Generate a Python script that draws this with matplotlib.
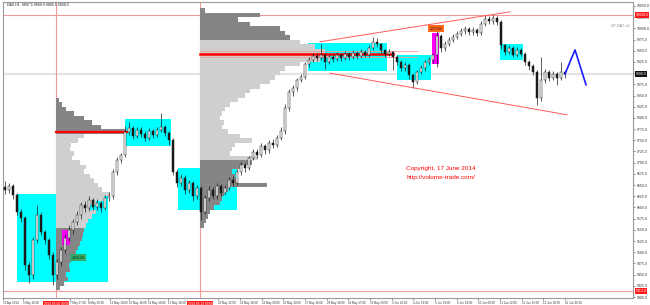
import numpy as np
import matplotlib.pyplot as plt
from matplotlib.patches import Rectangle

# DAX H1, 30 Apr - 16 Jun 2014, one entry per bar
first_open = 9645
closes = [9639, 9648, 9628, 9590, 9576, 9471, 9449, 9527, 9583, 9545,
          9527, 9494, 9449, 9478, 9505, 9532, 9550, 9568, 9583, 9605,
          9599, 9617, 9601, 9610, 9599, 9621, 9626, 9679, 9706, 9717,
          9769, 9777, 9760, 9773, 9764, 9755, 9771, 9762, 9773, 9780,
          9766, 9751, 9679, 9655, 9666, 9639, 9655, 9626, 9643, 9590,
          9621, 9639, 9626, 9648, 9632, 9643, 9661, 9655, 9679, 9695,
          9688, 9710, 9724, 9717, 9737, 9728, 9744, 9740, 9755, 9771,
          9822, 9858, 9867, 9885, 9891, 9920, 9929, 9938, 9934, 9941,
          9925, 9936, 9932, 9941, 9934, 9943, 9936, 9945, 9938, 9947,
          9941, 9956, 9970, 9965, 9952, 9943, 9947, 9936, 9925, 9912,
          9918, 9896, 9880, 9903, 9912, 9925, 9929, 9941, 9983, 9956,
          9965, 9974, 9981, 9987, 9994, 9999, 9992, 9996, 9990, 10010,
          10021, 10016, 10023, 10014, 9963, 9947, 9956, 9941, 9952, 9943,
          9925, 9916, 9903, 9844, 9885, 9903, 9889, 9898, 9889, 9903,
          9898]
highs = [9660, 9655, 9652, 9632, 9597, 9580, 9478, 9535, 9605, 9590,
         9550, 9532, 9500, 9485, 9512, 9540, 9560, 9575, 9592, 9612,
         9615, 9625, 9622, 9620, 9615, 9628, 9635, 9685, 9712, 9722,
         9782, 9790, 9782, 9780, 9779, 9770, 9778, 9776, 9780, 9812,
         9785, 9770, 9755, 9685, 9675, 9672, 9662, 9660, 9650, 9648,
         9628, 9648, 9645, 9655, 9652, 9650, 9668, 9670, 9685, 9702,
         9700, 9716, 9730, 9730, 9745, 9742, 9750, 9752, 9762, 9780,
         9830, 9865, 9874, 9890, 9898, 9926, 9936, 9945, 9945, 9965,
         9945, 9942, 9942, 9948, 9946, 9950, 9948, 9952, 9950, 9954,
         9952, 9962, 9980, 9978, 9968, 9955, 9954, 9950, 9940, 9930,
         9925, 9922, 9900, 9908, 9918, 9930, 9936, 9946, 9996, 9988,
         9972, 9980, 9988, 9994, 10000, 10005, 10003, 10002, 10000, 10016,
         10030, 10028, 10030, 10027, 10018, 9966, 9962, 9960, 9958, 9956,
         9948, 9930, 9920, 9906, 9935, 9910, 9908, 9905, 9903, 9925,
         9908]
lows = [9630, 9632, 9620, 9583, 9568, 9460, 9431, 9440, 9520, 9538,
        9518, 9485, 9427, 9440, 9470, 9498, 9525, 9540, 9560, 9575,
        9590, 9592, 9594, 9595, 9590, 9594, 9615, 9620, 9672, 9700,
        9712, 9762, 9752, 9755, 9758, 9748, 9750, 9756, 9758, 9768,
        9760, 9740, 9672, 9645, 9648, 9630, 9632, 9615, 9620, 9572,
        9585, 9615, 9620, 9620, 9625, 9628, 9638, 9648, 9650, 9672,
        9680, 9683, 9705, 9710, 9712, 9720, 9722, 9733, 9735, 9750,
        9765, 9815, 9850, 9860, 9880, 9886, 9914, 9925, 9928, 9930,
        9910, 9920, 9925, 9928, 9928, 9930, 9930, 9932, 9932, 9934,
        9935, 9936, 9952, 9958, 9945, 9936, 9938, 9907, 9918, 9905,
        9905, 9888, 9867, 9875, 9898, 9905, 9918, 9922, 9914, 9948,
        9950, 9960, 9970, 9976, 9982, 9988, 9985, 9986, 9982, 9986,
        10005, 10010, 10010, 10008, 9955, 9940, 9942, 9935, 9936, 9938,
        9918, 9908, 9895, 9829, 9838, 9878, 9882, 9884, 9874, 9884,
        9890]

bid = 9898
range_high, range_low = 10030, 9413
title = 'DAX,H1  9897.5 9899.0 9896.5 9898.0'

# volume profiles (session start bar, price levels, volume)
vp1_start = 12.75
vp1_levels = np.arange(9420, 9850, 10)
vp1_vol = [4, 8, 12, 10, 14, 13, 15, 18, 20, 22, 24, 26, 27, 28, 30, 32, 36, 40,
           34, 40, 48, 54, 46, 42, 38, 34, 28, 30, 24, 16, 18, 14, 15, 22, 28,
           70, 45, 36, 28, 18, 10, 6, 3]
vp1_va = (9560, 9760)
vp1_poc, vp1_poc_end = 9769, 30.5

vp2_start = 48.75
vp2_levels = np.arange(9560, 10050, 10)
vp2_vol = [4, 6, 8, 10, 14, 20, 22, 24, 28, 67, 38, 35, 32, 40, 52, 58, 30, 32,
           35, 52, 40, 28, 22, 24, 20, 22, 25, 30, 38, 45, 50, 60, 70, 75, 80,
           85, 100, 120, 130, 125, 115, 100, 90, 85, 80, 50, 38, 60, 5]
vp2_va = (9710, 9970)
vp2_poc, vp2_poc_end = 9943, 97

# zones: (bar from, bar to, price low, price high)
cyan_zones = [(3, 25.75, 9434, 9630), (30, 41.5, 9737, 9798),
              (43.25, 58, 9594, 9688), (75.75, 95.5, 9905, 9967),
              (98, 106.5, 9885, 9941), (123.75, 129.5, 9929, 9965)]
magenta_zones = [(14.25, 16.25, 9516, 9550), (106.75, 108.5, 9920, 9990)]

# trend channel and projection
chan_top_x, chan_top_y = [78.75, 126.25], [9970, 10037]
chan_bot_x, chan_bot_y = [81.25, 140.5], [9900, 9807]
proj_x, proj_y = [140, 142.5, 145.25], [9898, 9952, 9874]

yticks = np.arange(9400, 10051, 25)
xtick_pos = [-0.5, 4.5, 16.25, 20.75, 26.25, 31, 35.75, 40.75, 53.25, 58.75,
             64.25, 69.5, 75, 80.5, 85.75, 91.25, 96.75, 102, 107.5, 113,
             118.25, 123.75, 129.25, 134.5, 140]
xtick_lab = ['30 Apr 2014', '5 May 16:00', '7 May 17:00', '8 May 20:00',
             '12 May 10:00', '13 May 16:00', '14 May 10:00', '15 May 18:00',
             '20 May 12:00', '21 May 18:00', '22 May 20:00', '26 May 10:00',
             '27 May 14:00', '28 May 18:00', '29 May 17:00', '30 May 20:00',
             '3 Jun 10:00', '4 Jun 13:00', '5 Jun 18:00', '6 Jun 19:00',
             '10 Jun 09:00', '11 Jun 12:00', '12 Jun 15:00', '13 Jun 18:00',
             '16 Jun 20:00']

fig = plt.figure(figsize=(6.5, 3.05), dpi=100)
ax = fig.add_axes([3 / 650, 7 / 305, 630 / 650, 296 / 305])
ax.set_xlim(-0.5, 157)
ax.set_ylim(9397.8, 10058.9)

pink = '#f29a9a'
ax.axhline(bid, color='#e4e4e4', lw=1.6, zorder=0)
ax.axhline(range_high, color=pink, lw=0.8, zorder=1)
ax.axhline(range_low, color=pink, lw=0.8, zorder=1)
ax.axvline(vp1_start, color=pink, lw=0.8, zorder=1)
ax.axvline(vp2_start, color=pink, lw=0.8, zorder=1)

for x0, x1, lo, hi in cyan_zones:
    ax.add_patch(Rectangle((x0, lo), x1 - x0, hi - lo, color='#00ffff', lw=0, zorder=2))

# profiles, widths scaled to bars (4 px per bar)
for start, lev, vol, va in [(vp1_start, vp1_levels, vp1_vol, vp1_va),
                            (vp2_start, vp2_levels, vp2_vol, vp2_va)]:
    vol = np.array(vol) / 4
    cols = ['#cfcfcf' if va[0] <= p <= va[1] else '#858585' for p in lev]
    ax.barh(lev, vol, height=10, left=start, color=cols, lw=0, zorder=3)

ax.plot([vp1_start, vp1_poc_end], [vp1_poc, vp1_poc], color='red', lw=1.6, zorder=4)
ax.plot([vp2_start, vp2_poc_end], [vp2_poc, vp2_poc], color='red', lw=1.8, zorder=4)
ax.plot([vp2_start, 103], [vp2_poc + 7, vp2_poc + 7], color=pink, lw=0.6, zorder=4)
ax.plot([vp2_start, 103], [vp2_poc - 8, vp2_poc - 8], color=pink, lw=0.6, zorder=4)

for x0, x1, lo, hi in magenta_zones:
    ax.add_patch(Rectangle((x0, lo), x1 - x0, hi - lo, color='#ff00ff', lw=0, zorder=4))

# candles
x = np.arange(len(closes))
c = np.array(closes)
o = np.r_[first_open, c[:-1]]
ax.vlines(x, lows, highs, color='#1a1a1a', lw=0.5, zorder=5)
up = c >= o
bot = np.minimum(o, c)
hgt = np.maximum(np.abs(c - o), 1.5)
ax.bar(x[up], hgt[up], bottom=bot[up], width=0.4, facecolor='white',
       edgecolor='#1a1a1a', lw=0.35, zorder=6)
ax.bar(x[~up], hgt[~up], bottom=bot[~up], width=0.4, facecolor='#1a1a1a',
       edgecolor='#1a1a1a', lw=0.35, zorder=6)

ax.plot(chan_top_x, chan_top_y, color='#ff5a5a', lw=0.7, zorder=7)
ax.plot(chan_bot_x, chan_bot_y, color='#ff5a5a', lw=0.7, zorder=7)
ax.plot(proj_x, proj_y, color='#1a1aff', lw=1.2, zorder=7)

small = dict(family='Liberation Sans')
ax.text(18.25, 9488, '198500', fontsize=2.8, ha='center', va='center', color='#0b3d1d',
        bbox=dict(boxstyle='square,pad=0.4', fc='#35a865', ec='none'), zorder=8, **small)
ax.text(107.75, 9999, '105000', fontsize=2.8, ha='center', va='center', color='#3a1000',
        bbox=dict(boxstyle='square,pad=0.4', fc='#ff6a1a', ec='none'), zorder=8, **small)

ax.text(109, 9688, 'Copyright, 17 June 2014', color='red', fontsize=4.6,
        ha='center', va='center', zorder=8, **small)
ax.text(109, 9668, 'http://volume-trade.com/', color='red', fontsize=4.6,
        ha='center', va='center', zorder=8, **small)

ax.text(0.006, 0.997, title, transform=ax.transAxes, fontsize=2.6, va='top',
        color='#222222', **small)
ax.text(0.995, 0.915, 'VP-DAY: v2', transform=ax.transAxes, fontsize=2.6, ha='right',
        color='#888888', **small)

# axes
ax.yaxis.tick_right()
ax.set_yticks(yticks)
ax.set_yticklabels([f'{v:.1f}' for v in yticks], **small)
ax.tick_params(axis='y', labelsize=2.5, length=1.5, width=0.4, pad=1, colors='#333333')
ax.set_xticks(xtick_pos)
ax.set_xticklabels(xtick_lab, ha='left', **small)
ax.tick_params(axis='x', labelsize=2.1, length=1.5, width=0.4, pad=0.8, colors='#333333')
for s in ax.spines.values():
    s.set_color('#9a9a9a')
    s.set_linewidth(0.8)

yax = ax.get_yaxis_transform()
for val, fc in [(range_high, '#ff1a1a'), (bid, '#111111'), (range_low, '#ff1a1a')]:
    ax.text(1.004, val, f'{val:.1f}', transform=yax, fontsize=2.5, color='white',
            va='center', ha='left', bbox=dict(boxstyle='square,pad=0.25', fc=fc, ec='none'),
            clip_on=False, zorder=9, **small)
xax = ax.get_xaxis_transform()
for pos, lab in [(vp1_start, '2014.05.06 09:00'), (vp2_start, '2014.05.19 09:00')]:
    ax.text(pos, -0.013, lab, transform=xax, fontsize=2.3, color='white', va='top',
            ha='center', bbox=dict(boxstyle='square,pad=0.25', fc='#ff1a1a', ec='none'),
            clip_on=False, zorder=9, **small)

fig.savefig('out.png', dpi=100)
